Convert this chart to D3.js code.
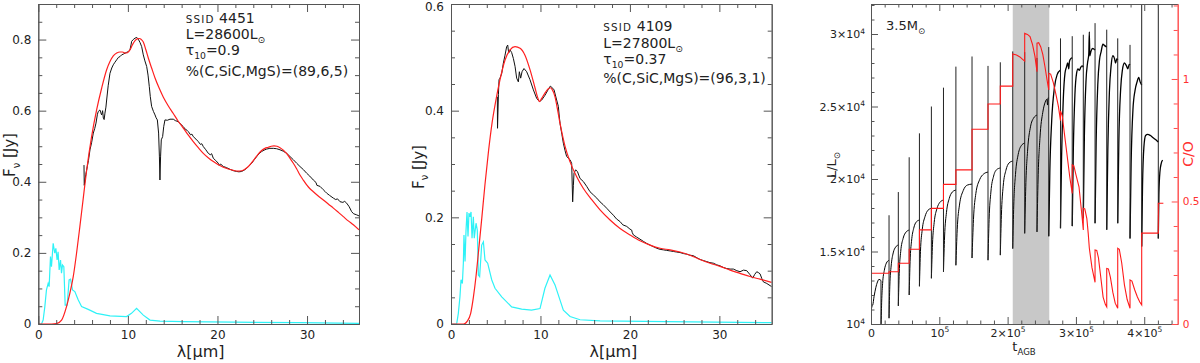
<!DOCTYPE html>
<html>
<head>
<meta charset="utf-8">
<script src="https://cdn.jsdelivr.net/npm/d3@7"></script>
<style>
body { margin: 0; background: #fff; }
svg { display: block; }
text { font-family: "DejaVu Sans", sans-serif; fill: #222; }
.axis path, .axis line { stroke: #555; }
.axis text { font-family: "DejaVu Sans", sans-serif; fill: #222; }
.red path, .red line { stroke: #ff4d4d; }
.red text { fill: #ff3030; }
</style>
</head>
<body>
<svg id="chart" width="1200" height="363"></svg>
<script>
// ---- SSID 4451 : wavelength (micron), flux (Jy) ----
var sed1Obs = [[5.1,0.447],[5.13,0.39],[5.3,0.42],[5.47,0.443],[5.6,0.46],[5.77,0.49],[5.95,0.51],[6.14,0.537],[6.3,0.55],[6.44,0.565],[6.6,0.59],[6.7,0.598],[6.88,0.602],[6.98,0.594],[7.07,0.588],[7.18,0.6],[7.26,0.579],[7.35,0.575],[7.44,0.593],[7.55,0.61],[7.63,0.63],[7.8,0.67],[8.0,0.705],[8.2,0.72],[8.37,0.729],[8.55,0.736],[8.75,0.743],[8.95,0.75],[9.12,0.752],[9.3,0.757],[9.49,0.759],[9.7,0.762],[9.86,0.764],[10.05,0.766],[10.23,0.771],[10.35,0.785],[10.42,0.795],[10.6,0.8],[10.8,0.804],[11.0,0.806],[11.16,0.801],[11.35,0.792],[11.54,0.78],[11.72,0.757],[11.9,0.74],[12.1,0.724],[12.25,0.7],[12.39,0.668],[12.5,0.64],[12.65,0.612],[12.85,0.598],[13.03,0.588],[13.15,0.58],[13.29,0.574],[13.43,0.537],[13.52,0.47],[13.58,0.405],[13.65,0.47],[13.73,0.518],[13.88,0.527],[14.0,0.555],[14.14,0.574],[14.4,0.573],[14.7,0.576],[15.07,0.576],[15.3,0.572],[15.63,0.569],[15.9,0.562],[16.19,0.555],[16.4,0.548],[16.6,0.545],[16.75,0.541],[17.0,0.532],[17.15,0.534],[17.3,0.527],[17.6,0.52],[17.86,0.513],[18.1,0.505],[18.25,0.507],[18.42,0.499],[18.7,0.49],[18.98,0.48],[19.2,0.476],[19.35,0.479],[19.54,0.466],[19.8,0.46],[20.1,0.452],[20.2,0.446],[20.35,0.45],[20.65,0.443],[21.0,0.44],[21.4,0.435],[21.8,0.431],[22.14,0.429],[22.4,0.428],[22.7,0.429],[23.0,0.433],[23.26,0.438],[23.55,0.445],[23.82,0.452],[24.1,0.462],[24.38,0.471],[24.65,0.479],[24.93,0.485],[25.2,0.489],[25.49,0.492],[25.85,0.494],[26.24,0.494],[26.6,0.493],[26.98,0.49],[27.35,0.486],[27.73,0.48],[28.1,0.471],[28.47,0.462],[28.85,0.452],[29.21,0.443],[29.6,0.434],[29.96,0.424],[30.3,0.416],[30.7,0.405],[31.0,0.398],[31.1,0.39],[31.45,0.387],[31.8,0.378],[32.0,0.373],[32.19,0.368],[32.5,0.362],[32.94,0.354],[33.2,0.35],[33.4,0.352],[33.68,0.344],[34.0,0.342],[34.2,0.345],[34.42,0.34],[34.7,0.33],[34.98,0.316],[35.2,0.31],[35.54,0.307],[35.8,0.304]];
var sed1Model = [[0,0],[1.5,0],[2.0,0.001],[2.6,0.011],[3.15,0.049],[3.52,0.086],[3.9,0.133],[4.27,0.199],[4.64,0.274],[5.0,0.35],[5.4,0.433],[5.95,0.527],[6.51,0.602],[7.07,0.663],[7.63,0.715],[8.0,0.738],[8.37,0.754],[8.75,0.762],[9.12,0.765],[9.4,0.765],[9.68,0.762],[9.95,0.763],[10.23,0.771],[10.5,0.785],[10.8,0.797],[11.05,0.802],[11.28,0.803],[11.5,0.8],[11.72,0.793],[12.0,0.772],[12.28,0.748],[12.65,0.72],[13.03,0.692],[13.5,0.663],[13.96,0.638],[14.5,0.614],[15.07,0.592],[15.6,0.571],[16.19,0.551],[16.75,0.531],[17.3,0.513],[17.86,0.496],[18.42,0.48],[19.0,0.467],[19.54,0.457],[20.1,0.448],[20.65,0.441],[21.2,0.436],[21.77,0.432],[22.3,0.43],[22.7,0.431],[23.1,0.436],[23.45,0.443],[23.8,0.453],[24.19,0.466],[24.55,0.478],[24.93,0.488],[25.3,0.494],[25.68,0.497],[26.0,0.5],[26.31,0.501],[26.65,0.5],[26.98,0.496],[27.35,0.489],[27.73,0.479],[28.1,0.466],[28.47,0.452],[28.85,0.436],[29.21,0.419],[29.6,0.404],[29.96,0.391],[30.3,0.381],[30.7,0.372],[31.25,0.36],[31.82,0.349],[32.4,0.337],[32.94,0.326],[33.5,0.314],[34.05,0.302],[34.6,0.29],[35.17,0.279],[35.8,0.265]];
var sed1Star = [[0,0],[0.36,0],[0.54,0.011],[0.73,0.049],[0.91,0.096],[1.1,0.114],[1.21,0.105],[1.36,0.19],[1.47,0.161],[1.66,0.227],[1.84,0.199],[1.96,0.213],[2.1,0.18],[2.21,0.203],[2.33,0.152],[2.48,0.18],[2.59,0.143],[2.7,0.166],[2.85,0.161],[3.0,0.053],[3.22,0.053],[3.44,0.124],[3.6,0.126],[3.82,0.096],[4.08,0.091],[4.45,0.068],[4.83,0.049],[5.57,0.041],[6.5,0.03],[8.0,0.023],[9.85,0.021],[10.4,0.03],[10.97,0.044],[11.72,0.025],[12.47,0.011],[13.58,0.008],[16.19,0.0066],[21.77,0.005],[29.2,0.004],[35.8,0.002]];

// ---- SSID 4109 ----
var sed2Obs = [[5.18,0.426],[5.2,0.367],[5.3,0.43],[5.37,0.458],[5.48,0.461],[5.67,0.47],[5.85,0.489],[6.04,0.504],[6.22,0.52],[6.34,0.523],[6.45,0.508],[6.6,0.514],[6.78,0.509],[6.97,0.498],[7.16,0.483],[7.34,0.461],[7.53,0.454],[7.64,0.473],[7.79,0.461],[7.94,0.473],[8.16,0.479],[8.46,0.473],[8.83,0.458],[9.21,0.439],[9.58,0.423],[9.88,0.417],[10.14,0.42],[10.51,0.429],[10.88,0.44],[11.1,0.446],[11.26,0.444],[11.52,0.439],[11.81,0.42],[12.0,0.408],[12.1,0.39],[12.19,0.376],[12.4,0.355],[12.56,0.339],[12.75,0.325],[12.93,0.314],[13.31,0.308],[13.49,0.301],[13.6,0.229],[13.68,0.26],[13.75,0.283],[13.94,0.289],[14.13,0.286],[14.42,0.273],[14.8,0.267],[15.17,0.258],[15.54,0.248],[15.92,0.242],[16.3,0.236],[16.66,0.229],[17.0,0.224],[17.41,0.217],[17.8,0.21],[18.15,0.204],[18.5,0.197],[18.9,0.192],[19.2,0.186],[19.64,0.183],[20.0,0.178],[20.2,0.176],[20.25,0.172],[20.39,0.167],[20.75,0.163],[21.13,0.159],[21.5,0.155],[21.88,0.151],[22.25,0.148],[22.62,0.145],[23.0,0.142],[23.37,0.14],[23.75,0.139],[24.11,0.138],[24.5,0.137],[24.86,0.136],[25.2,0.135],[25.6,0.134],[26.0,0.132],[26.35,0.131],[26.7,0.129],[27.1,0.128],[27.5,0.124],[27.84,0.121],[28.2,0.119],[28.59,0.117],[28.95,0.115],[29.33,0.114],[29.7,0.111],[30.08,0.109],[30.45,0.106],[30.82,0.104],[31.2,0.103],[31.57,0.103],[31.95,0.1],[32.31,0.098],[32.7,0.101],[33.06,0.1],[33.4,0.093],[33.73,0.086],[33.95,0.093],[34.18,0.098],[34.4,0.096],[34.55,0.094],[34.75,0.085],[34.92,0.079],[35.3,0.076],[35.85,0.07]];
var sed2Model = [[0,0],[1.4,0],[1.8,0.005],[2.2,0.02],[2.5,0.05],[2.8,0.09],[3.1,0.14],[3.45,0.2],[3.8,0.262],[4.2,0.325],[4.6,0.378],[5.0,0.418],[5.48,0.458],[6.04,0.495],[6.6,0.514],[7.16,0.52],[7.72,0.517],[8.27,0.504],[8.83,0.477],[9.39,0.443],[9.7,0.424],[9.88,0.417],[10.1,0.422],[10.5,0.433],[10.88,0.441],[11.1,0.443],[11.3,0.44],[11.63,0.426],[11.9,0.403],[12.19,0.376],[12.5,0.351],[12.75,0.333],[13.31,0.304],[14.05,0.276],[14.8,0.254],[15.73,0.233],[16.66,0.214],[17.78,0.195],[18.9,0.179],[20.01,0.167],[21.13,0.156],[22.25,0.148],[23.37,0.142],[24.49,0.139],[25.6,0.135],[26.72,0.129],[27.84,0.121],[28.96,0.114],[30.08,0.108],[31.2,0.101],[32.31,0.095],[33.43,0.089],[34.55,0.084],[35.85,0.078]];
var sed2Star = [[0,0],[0.63,0],[0.82,0.02],[1.0,0.051],[1.12,0.083],[1.27,0.076],[1.38,0.114],[1.45,0.167],[1.57,0.117],[1.68,0.176],[1.79,0.21],[1.9,0.164],[2.01,0.208],[2.12,0.201],[2.24,0.21],[2.35,0.161],[2.5,0.201],[2.6,0.161],[2.8,0.189],[2.94,0.176],[3.06,0.092],[3.2,0.089],[3.43,0.148],[3.62,0.154],[3.8,0.12],[4.1,0.114],[4.55,0.083],[4.92,0.067],[5.67,0.051],[6.78,0.032],[7.9,0.028],[9.0,0.026],[9.95,0.029],[10.5,0.067],[11.07,0.092],[11.63,0.073],[11.81,0.064],[12.56,0.026],[13.31,0.014],[14.42,0.008],[16.66,0.006],[24.1,0.0044],[35.85,0.0025]];

var sedXTicks = [0, 10, 20, 30];
var sedXLabels = ["0", "10", "20", "30"];
var sed1YTicks = [0, 0.2, 0.4, 0.6, 0.8];
var sed2YTicks = [0, 0.2, 0.4, 0.6];
var sedYLabels = ["0", "0.2", "0.4", "0.6", "0.8"];

// ---- 3.5 Msun AGB track : t (10^3 yr), L (Lsun), C/O ----
var pulseT = [14.6,26.4,40.0,55.9,70.9,88.4,106.1,124.3,147.9,171.3,189.3,207.5,225.0,243.0,260.2,277.4,294.6,310.8,328.0,345.1,361.2,379.2,396.3,420.6];
var pulseTop = [13000,17500,19100,21500,23150,25000,26300,27750,28450,27800,28050,28800,28750,28350,29100,29700,29850,29950,30750,30300,29700,29250,33500,33500];
var pulseBottom = [9500,10400,11250,12000,12600,13150,13600,14050,14550,14400,14750,15200,16250,16350,16050,16600,16750,17300,16950,16500,16950,15900,15350,15900];
var lumArcs = [
  [[0.7,11050],[1.6,11250],[2.5,11300],[4.5,11900],[7,12500],[9.5,12900],[11.7,13080],[14.6,13000]],
  [[14.6,9500],[15.6,11500],[17,12800],[19.5,13700],[22.5,14200],[26.4,14400]],
  [[26.4,10400],[27.5,12600],[29.5,14000],[32.5,14900],[36,15300],[40,15450]],
  [[40,11250],[41.3,13500],[43.5,15000],[47,15900],[51.5,16350],[55.9,16480]],
  [[55.9,12000],[57.2,14300],[59.3,15700],[62.5,16600],[66.5,17050],[70.9,17170]],
  [[70.9,12600],[72.4,15000],[75,16500],[79,17400],[83.5,17850],[88.4,17980]],
  [[88.4,13150],[90,15500],[92.5,17000],[96.5,17950],[101,18400],[106.1,18550]],
  [[106.1,13600],[107.7,16000],[110.5,17700],[114.5,18650],[119,19100],[124.3,19240]],
  [[124.3,14050],[126.2,16500],[129.5,18200],[135,19200],[141,19580],[147.9,19650]],
  [[147.9,14550],[150,17200],[153.5,19000],[159,19950],[165,20350],[171.3,20480]],
  [[171.3,14400],[172.9,17200],[175.5,19100],[179.5,20200],[184,20650],[189.3,20760]],
  [[189.3,14750],[190.9,17500],[193.5,19500],[197.5,20600],[202,21100],[207.5,21240]],
  [[207.5,15200],[209,18200],[211.5,20300],[215.5,21700],[220,22300],[225,22480]],
  [[225,16250],[226.6,19500],[229.3,22000],[233.5,23600],[238,24200],[243,24410]],
  [[243,16350],[244.6,20000],[247.3,22800],[251.5,24600],[255,25300],[257.5,25500],[258.5,25100],[259.3,25600],[260.2,25590]],
  [[260.2,16050],[261.8,20500],[264.5,24000],[268.5,26300],[272.5,27200],[277.4,27520]],
  [[277.4,16600],[279,21500],[281.5,25500],[284,27300],[286,27700],[288,28000],[289.5,27600],[290.5,28100],[292.5,28300],[294.6,28350]],
  [[294.6,16750],[296.2,22000],[298.5,25800],[301,27300],[303,27600],[305,27500],[307,27700],[309,27800],[310.8,27720]],
  [[310.8,17300],[312.4,23000],[314.8,26800],[317,28000],[318.8,28600],[319.6,30150],[320.3,28500],[322,28800],[324.5,29000],[328,28900]],
  [[328,16950],[329.6,22500],[332,26500],[334.5,28200],[337,28800],[339.5,29300],[342,29200],[345.1,29100]],
  [[345.1,16500],[346.7,22000],[349,26000],[351.5,27800],[354,28500],[356.5,28300],[358,28000],[360,28300],[361.2,28200]],
  [[361.2,16950],[362.8,22500],[365.5,26200],[368,27500],[371,28000],[374,27800],[376,27600],[378,27900],[379.2,27860]],
  [[379.2,15900],[380.8,21000],[383.5,24800],[386.5,26100],[389.5,26700],[392,27000],[394,26700],[396.3,26480]],
  [[396.3,15350],[397.5,19500],[399.5,22200],[402,23000],[405,23080],[409,23000],[413,22850],[417,22700],[420.6,22550]],
  [[420.6,15900],[421.5,19000],[423,20500],[425,21100],[427,21300]]
];
var coTrack = [[0,0.29],[0.3,0.207],[26.4,0.207],[26.4,0.213],[40,0.213],[40,0.248],[55.9,0.248],[55.9,0.305],[70.9,0.305],[70.9,0.384],[88.4,0.384],[88.4,0.472],[106.1,0.472],[106.1,0.57],[124.3,0.57],[124.3,0.629],[147.9,0.629],[147.9,0.795],[171.3,0.795],[171.3,0.898],[189.3,0.898],[189.3,0.971],[207.5,0.971],[207.5,1.102],[213,1.098],[218,1.09],[222,1.08],[225,1.073],[225,1.186],[229,1.182],[232.8,1.173],[236.5,1.14],[240.1,1.091],[243,1.03],[243,1.146],[245.5,1.148],[248.4,1.132],[251.5,1.1],[254.7,1.05],[257.5,1.0],[260.2,0.955],[260.2,1.023],[263,1.02],[266.9,0.985],[270.5,0.94],[274.2,0.89],[277.4,0.83],[277.4,0.87],[280,0.85],[283,0.78],[287,0.69],[291,0.6],[294.6,0.533],[294.6,0.649],[297,0.645],[300,0.61],[304.5,0.56],[308.9,0.44],[310.8,0.384],[310.8,0.472],[313,0.47],[316,0.43],[318,0.37],[319.6,0.31],[323.5,0.23],[328,0.17],[328,0.302],[330.5,0.3],[333,0.27],[336,0.2],[339.8,0.11],[343,0.08],[345.1,0.07],[345.1,0.227],[347.5,0.225],[350.5,0.19],[354,0.13],[357.5,0.085],[361.2,0.064],[361.2,0.309],[363.5,0.305],[367,0.25],[371,0.16],[375,0.1],[379.2,0.064],[379.2,0.18],[382,0.175],[386,0.14],[390,0.11],[393.5,0.09],[396.3,0.078],[396.3,0.371],[420.6,0.371],[420.6,0.493],[428,0.493]];
var shadedEpoch = [207.5, 261];

var tTicks = [0, 100, 200, 300, 400];
var tLabels = [["0",""],["10","5"],["2×10","5"],["3×10","5"],["4×10","5"]];
var lumTicks = [10000, 15000, 20000, 25000, 30000];
var lumLabels = [["10","4"],["1.5×10","4"],["2×10","4"],["2.5×10","4"],["3×10","4"]];
var coTicks = [0, 0.5, 1];
var coLabels = ["0", "0.5", "1"];

var svg = d3.select("#chart");
var TOP = 4, BOTTOM = 324;

// text with sub/superscript pieces: [string, kind]
function richText(g, x, y, parts, size, anchor) {
    var t = g.append("text").attr("x", x).attr("y", y)
        .attr("font-size", size).attr("text-anchor", anchor || "start");
    var shift = 0;
    parts.forEach(function (p) {
        var kind = p[1];
        var target = kind === "sub" ? size * 0.32 : (kind === "sup" ? -size * 0.45 : 0);
        var fs = (kind === "sub" || kind === "sup") ? size * 0.66 : (kind === "sc" ? size * 0.74 : size);
        var ts = t.append("tspan").attr("dy", target - shift).attr("font-size", fs).text(p[0]);
        if (kind === "sc") ts.attr("letter-spacing", 1.2);
        shift = target;
    });
    return t;
}

function tickSet(g, gen, tr, cls) {
    var a = g.append("g").attr("class", "axis " + (cls || "")).attr("transform", tr).call(gen);
    a.selectAll("text").attr("font-family", null).attr("font-size", null);
    a.attr("font-family", null).attr("font-size", 12);
    return a;
}

function supLabels(a, labels) {
    a.selectAll(".tick text").each(function (d, i) {
        var el = d3.select(this);
        el.text("");
        el.append("tspan").text(labels[i][0]);
        if (labels[i][1]) el.append("tspan").attr("dy", -4.5).attr("font-size", 7.5).text(labels[i][1]);
    });
}

function drawSed(cfg) {
    var x = d3.scaleLinear().domain(cfg.xDomain).range(cfg.xRange);
    var y = d3.scaleLinear().domain(cfg.yDomain).range([BOTTOM, TOP]);
    var g = svg.append("g");
    var x0 = cfg.xRange[0], x1 = cfg.xRange[1];

    g.append("clipPath").attr("id", cfg.id).append("rect")
        .attr("x", x0).attr("y", TOP).attr("width", x1 - x0).attr("height", BOTTOM - TOP);
    var plot = g.append("g").attr("clip-path", "url(#" + cfg.id + ")");
    var line = d3.line().x(function (d) { return x(d[0]); }).y(function (d) { return y(d[1]); });

    plot.append("path").datum(cfg.star).attr("d", line)
        .attr("fill", "none").attr("stroke", "#2ef2f7").attr("stroke-width", 1.2);
    plot.append("path").datum(cfg.obs).attr("d", line)
        .attr("fill", "none").attr("stroke", "#111").attr("stroke-width", 1);
    plot.append("path").datum(cfg.model).attr("d", line.curve(d3.curveMonotoneX))
        .attr("fill", "none").attr("stroke", "#ff1f1f").attr("stroke-width", 1.2);

    var xMinor = d3.range(0, cfg.xDomain[1], 2).filter(function (v) { return v % 10 !== 0; });
    var yMinor = d3.range(0, cfg.yDomain[1] + 0.001, 0.05).filter(function (v) { return Math.abs(v * 5 - Math.round(v * 5)) > 0.01; });

    tickSet(g, d3.axisBottom(x).tickValues(sedXTicks).tickSize(-8).tickSizeOuter(0).tickPadding(6)
        .tickFormat(function (d, i) { return sedXLabels[i]; }), "translate(0," + BOTTOM + ")");
    tickSet(g, d3.axisBottom(x).tickValues(xMinor).tickSize(-4).tickSizeOuter(0).tickFormat(""), "translate(0," + BOTTOM + ")");
    tickSet(g, d3.axisTop(x).tickValues(sedXTicks).tickSize(-8).tickSizeOuter(0).tickFormat(""), "translate(0," + TOP + ")");
    tickSet(g, d3.axisTop(x).tickValues(xMinor).tickSize(-4).tickSizeOuter(0).tickFormat(""), "translate(0," + TOP + ")");
    var ly = tickSet(g, d3.axisLeft(y).tickValues(cfg.yTicks).tickSize(-8).tickSizeOuter(0).tickPadding(7)
        .tickFormat(function (d, i) { return sedYLabels[i]; }), "translate(" + x0 + ",0)");
    // keep a label sitting on the top edge inside the picture
    ly.selectAll(".tick text").filter(function (d) { return y(d) < 8; }).attr("y", 3);
    tickSet(g, d3.axisLeft(y).tickValues(yMinor).tickSize(-4).tickSizeOuter(0).tickFormat(""), "translate(" + x0 + ",0)");
    tickSet(g, d3.axisRight(y).tickValues(cfg.yTicks).tickSize(-8).tickSizeOuter(0).tickFormat(""), "translate(" + x1 + ",0)");
    tickSet(g, d3.axisRight(y).tickValues(yMinor).tickSize(-4).tickSizeOuter(0).tickFormat(""), "translate(" + x1 + ",0)");

    // annotation
    var ax0 = cfg.noteX;
    richText(g, ax0, cfg.noteY[0], [["SSID", "sc"], [" " + cfg.ssid, ""]], 14);
    richText(g, ax0, cfg.noteY[1], [["L=" + cfg.lum + "L", ""], ["⊙", "sub"]], 14);
    richText(g, ax0, cfg.noteY[2], [["τ", ""], ["10", "sub"], ["=" + cfg.tau, ""]], 14);
    richText(g, ax0, cfg.noteY[3], [["%(C,SiC,MgS)=(" + cfg.mix + ")", ""]], 14);

    // axis titles
    var cx = (x0 + x1) / 2 + 2;
    richText(g, cx, 357, [["λ[", ""], ["μ", ""], ["m]", ""]], 16, "middle");
    richText(g, cfg.yLabelX, cfg.yLabelY, [["F", ""], ["ν", "sub"], ["  [Jy]", ""]], 15, "middle")
        .attr("transform", "rotate(-90," + cfg.yLabelX + "," + cfg.yLabelY + ")");
}

drawSed({
    id: "c1", xDomain: [0, 35.8], xRange: [38.3, 359], yDomain: [0, 0.9], yTicks: sed1YTicks,
    obs: sed1Obs, model: sed1Model, star: sed1Star,
    ssid: "4451", lum: "28600", tau: "0.9", mix: "89,6,5",
    noteX: 185.7, noteY: [22.5, 38.5, 55, 76], yLabelX: 15, yLabelY: 155
});
drawSed({
    id: "c2", xDomain: [0, 35.85], xRange: [451, 771.7], yDomain: [0, 0.6], yTicks: sed2YTicks,
    obs: sed2Obs, model: sed2Model, star: sed2Star,
    ssid: "4109", lum: "27800", tau: "0.37", mix: "96,3,1",
    noteX: 603.3, noteY: [30.5, 48, 63.5, 83], yLabelX: 423.5, yLabelY: 167
});

// ---- third panel: luminosity and C/O along the AGB ----
(function () {
    var x0 = 871, x1 = 1177.7;
    var x = d3.scaleLinear().domain([0, 449]).range([x0, x1]);
    var yL = d3.scaleLinear().domain([10000, 32070]).range([BOTTOM, TOP]);
    var yC = d3.scaleLinear().domain([0, 1.306]).range([BOTTOM, TOP]);
    var g = svg.append("g");

    g.append("clipPath").attr("id", "c3").append("rect")
        .attr("x", x0).attr("y", TOP).attr("width", x1 - x0).attr("height", BOTTOM - TOP);
    var plot = g.append("g").attr("clip-path", "url(#c3)");

    plot.append("rect").attr("x", x(shadedEpoch[0])).attr("y", TOP)
        .attr("width", x(shadedEpoch[1]) - x(shadedEpoch[0])).attr("height", BOTTOM - TOP)
        .attr("fill", "#c8c8c8");

    var arcLine = d3.line().x(function (d) { return x(d[0]); }).y(function (d) { return yL(d[1]); })
        .curve(d3.curveMonotoneX);
    plot.selectAll(".arc").data(lumArcs).enter().append("path").attr("class", "arc")
        .attr("d", arcLine).attr("fill", "none").attr("stroke", "#000")
        .attr("stroke-width", function (d, i) { return i >= 15 ? 1.3 : 1; });
    plot.selectAll(".pulse").data(pulseT).enter().append("line").attr("class", "pulse")
        .attr("x1", function (d) { return x(d); }).attr("x2", function (d) { return x(d); })
        .attr("y1", function (d, i) { return yL(pulseBottom[i]); })
        .attr("y2", function (d, i) { return yL(pulseTop[i]); })
        .attr("stroke", "#222").attr("stroke-width", 1);

    var coLine = d3.line().x(function (d) { return x(d[0]); }).y(function (d) { return yC(d[1]); });
    plot.append("path").datum(coTrack).attr("d", coLine)
        .attr("fill", "none").attr("stroke", "#ff1a1a").attr("stroke-width", 1.1);

    var tMinor = d3.range(0, 449, 20).filter(function (v) { return v % 100 !== 0; });
    var lMinor = d3.range(10000, 32070, 1000).filter(function (v) { return v % 5000 !== 0; });
    var cMinor = [0.1, 0.2, 0.3, 0.4, 0.6, 0.7, 0.8, 0.9, 1.1, 1.2, 1.3];

    var bx = tickSet(g, d3.axisBottom(x).tickValues(tTicks).tickSize(-7).tickSizeOuter(0).tickPadding(5),
        "translate(0," + BOTTOM + ")");
    bx.attr("font-size", 11);
    supLabels(bx, tLabels);
    tickSet(g, d3.axisBottom(x).tickValues(tMinor).tickSize(-3.5).tickSizeOuter(0).tickFormat(""), "translate(0," + BOTTOM + ")");
    tickSet(g, d3.axisTop(x).tickValues(tTicks).tickSize(-7).tickSizeOuter(0).tickFormat(""), "translate(0," + TOP + ")");
    tickSet(g, d3.axisTop(x).tickValues(tMinor).tickSize(-3.5).tickSizeOuter(0).tickFormat(""), "translate(0," + TOP + ")");

    var lx = tickSet(g, d3.axisLeft(yL).tickValues(lumTicks).tickSize(-7).tickSizeOuter(0).tickPadding(6),
        "translate(" + x0 + ",0)");
    lx.attr("font-size", 11);
    supLabels(lx, lumLabels);
    tickSet(g, d3.axisLeft(yL).tickValues(lMinor).tickSize(-3.5).tickSizeOuter(0).tickFormat(""), "translate(" + x0 + ",0)");

    var rx = tickSet(g, d3.axisRight(yC).tickValues(coTicks).tickSize(-6).tickSizeOuter(0).tickPadding(5)
        .tickFormat(function (d, i) { return coLabels[i]; }), "translate(" + x1 + ",0)", "red");
    rx.attr("font-size", 10.5);
    tickSet(g, d3.axisRight(yC).tickValues(cMinor).tickSize(-4).tickSizeOuter(0).tickFormat(""), "translate(" + x1 + ",0)", "red");

    richText(g, 886, 29.5, [["3.5M", ""], ["⊙", "sub"]], 13);
    richText(g, 1024, 351, [["t", ""], ["AGB", "sub"]], 13, "middle");
    richText(g, 836, 165, [["L/L", ""], ["⊙", "sub"]], 13, "middle")
        .attr("transform", "rotate(-90,836,165)");
    richText(g, 1193, 154, [["C/O", ""]], 14, "middle")
        .attr("transform", "rotate(-90,1193,154)").style("fill", "#ff3030");
})();
</script>
</body>
</html>
